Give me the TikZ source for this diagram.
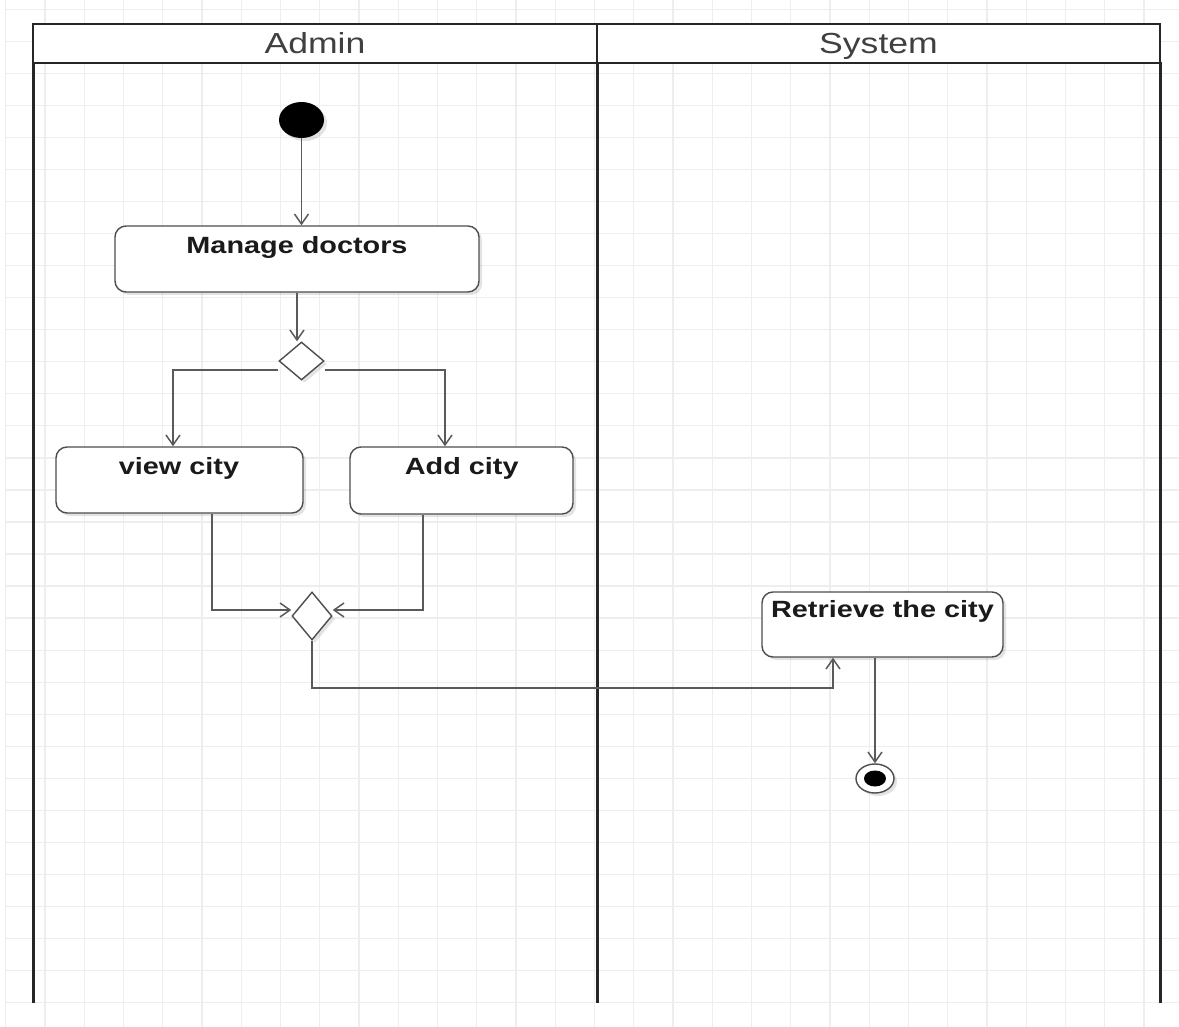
\documentclass[tikz,border=0pt]{standalone}
\usepackage{fontspec}
\setmainfont{Liberation Sans}
\usepackage{graphicx}
\usetikzlibrary{arrows.meta,shapes.geometric,shadows}

% horizontally widened text
\newcommand{\wide}[1]{\scalebox{1.227}[1]{#1}}

\definecolor{gridcol}{HTML}{EEEEEE}
\definecolor{lanecol}{HTML}{262626}
\definecolor{edgecol}{HTML}{5A5A5A}
\definecolor{boxcol}{HTML}{4D4D4D}
\definecolor{txtcol}{HTML}{1A1A1A}

\begin{document}
\begin{tikzpicture}[x=1pt,y=-1pt,
  gridline/.style={draw=gridcol,line width=1.2pt},
  laneline/.style={draw=lanecol,line width=3pt},
  lanehead/.style={draw=lanecol,line width=2.4pt,fill=white,inner sep=0pt,
    text=black!75,font=\fontsize{29}{34}\selectfont,text height=21pt,text depth=0pt},
  softshadow/.style={drop shadow={shadow xshift=3pt,shadow yshift=-3pt,opacity=0.18,fill=black!60}},
  actbox/.style={draw=boxcol,line width=1.4pt,fill=white,rounded corners=11pt,inner sep=0pt,softshadow},
  actlabel/.style={anchor=base,inner sep=0pt,text=txtcol,font=\fontsize{23.5}{28}\selectfont\bfseries},
  decision/.style={diamond,draw=boxcol,line width=1.4pt,fill=white,inner sep=0pt,softshadow},
  initial/.style={ellipse,fill=black,inner sep=0pt,minimum width=45pt,minimum height=36pt,softshadow},
  finalring/.style={ellipse,draw=boxcol,line width=1.4pt,fill=white,inner sep=0pt,
    minimum width=38pt,minimum height=29pt,softshadow},
  finaldot/.style={ellipse,fill=black,inner sep=0pt,minimum width=22pt,minimum height=16pt},
  flow/.style={draw=edgecol,line width=1.6pt,-{Straight Barb[length=10pt,width=14pt,line width=1.5pt]}},
]
% canvas
\useasboundingbox (0,0) rectangle (1179,1027);
\fill[white] (0,0) rectangle (1179,1027);

% background grid
\foreach \i in {0,...,29}
  \draw[gridline] ({5.75+39.25*\i},0) -- ({5.75+39.25*\i},1027);
\foreach \j in {0,...,31}
  \draw[gridline] (5,{9.5+32.03*\j}) -- (1179,{9.5+32.03*\j});

% swimlanes
\draw[laneline] (33,62) -- (33,1003);
\draw[laneline] (597,62) -- (597,1003);
\draw[laneline] (1160,62) -- (1160,1003);
\node[lanehead,minimum width=564pt,minimum height=39pt] (adminlane) at (315,43.5) {\wide{Admin}};
\node[lanehead,minimum width=563pt,minimum height=39pt] (systemlane) at (878.5,43.5) {\wide{System}};

% activity nodes
\node[initial] (start) at (301.5,120) {};
\node[actbox,minimum width=364pt,minimum height=66pt] (md) at (297,259) {};
\node[actlabel] (mdtext) at (297,253.3) {\wide{Manage doctors}};

\node[decision,minimum width=45pt,minimum height=38pt] (d1) at (301.5,361) {};

\node[actbox,minimum width=247pt,minimum height=66pt] (view) at (179.5,480) {};
\node[actlabel] (viewtext) at (179,474) {\wide{view city}};
\node[actbox,minimum width=223pt,minimum height=67pt] (add) at (461.5,480.5) {};
\node[actlabel] (addtext) at (461.7,474) {\wide{Add city}};

\node[decision,minimum width=40pt,minimum height=48pt] (d2) at (312,616) {};

\node[actbox,minimum width=241pt,minimum height=65pt] (ret) at (882.5,624.5) {};
\node[actlabel] (rettext) at (882.5,617.7) {\wide{Retrieve the city}};

\node[finalring] (end) at (875,778.5) {};
\node[finaldot] (enddot) at (end.center) {};

% control flow
\draw[flow] (start.south) -- (start.south |- md.north);
\draw[flow] (md.south) -- (md.south |- d1.north);
\draw[flow] ([yshift=-9pt]d1.west) -| ([xshift=-6.5pt]view.north);
\draw[flow] ([yshift=-9pt]d1.east) -| ([xshift=-16.5pt]add.north);
\draw[flow] ([xshift=32.5pt]view.south) |- ([yshift=6pt]d2.west);
\draw[flow] ([xshift=-38.5pt]add.south) |- ([yshift=6pt]d2.east);
\draw[flow] (d2.south) -- ++(0,47) -| ([xshift=-49.5pt]ret.south);
\draw[flow] ([xshift=-7.5pt]ret.south) -- (end.north);
\end{tikzpicture}
\end{document}
